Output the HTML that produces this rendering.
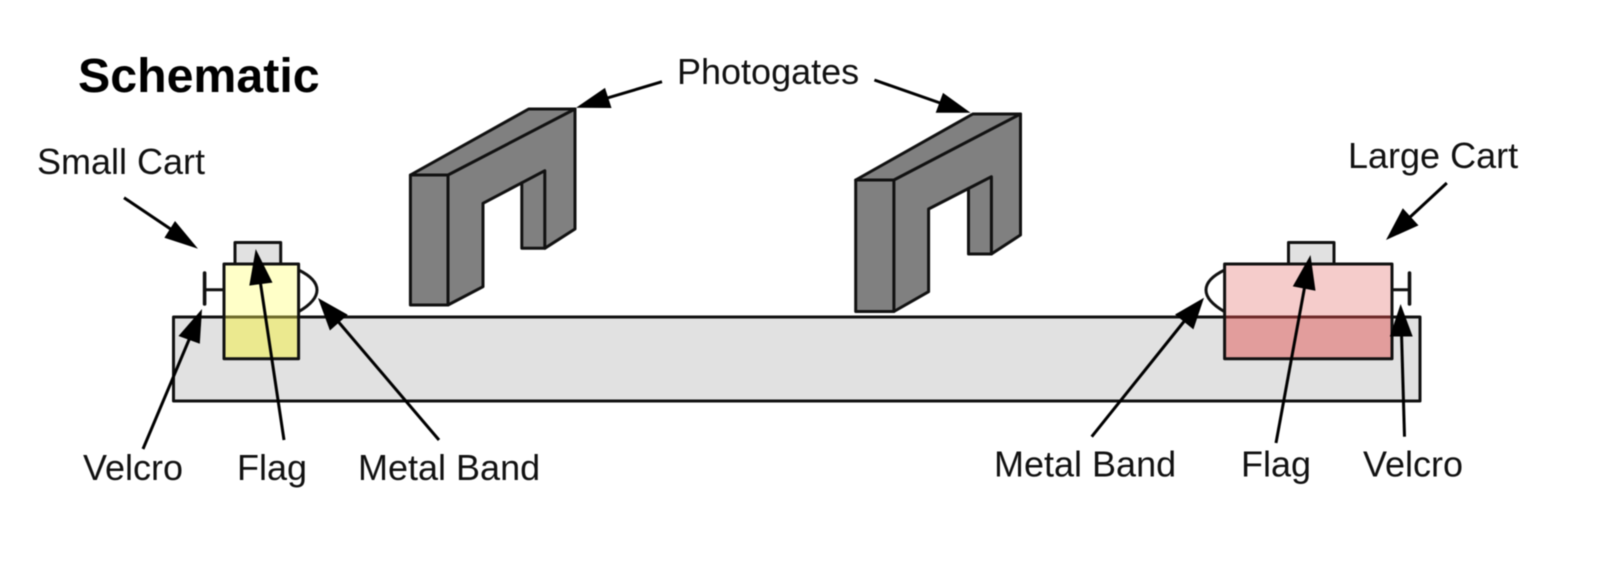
<!DOCTYPE html>
<html>
<head>
<meta charset="utf-8">
<style>
html,body{margin:0;padding:0;background:#fff;width:1604px;height:570px;overflow:hidden}
svg{display:block;filter:blur(0.4px)}
text{font-family:"Liberation Sans",sans-serif;font-size:36px;fill:#111}
</style>
</head>
<body>
<svg width="1604" height="570" viewBox="0 0 1604 570" xmlns="http://www.w3.org/2000/svg">
<rect width="1604" height="570" fill="#fff"/>
<g stroke="#111" stroke-width="3" stroke-linejoin="round" stroke-linecap="round">
  <!-- track -->
  <rect x="173.5" y="317" width="1246.5" height="84" fill="#e1e1e1"/>
  <!-- gate 1 -->
  <path d="M410.4 175L528.7 109L575 109L575 229L544.8 248.3L521.8 248.3L521.8 182.8L483 203.3L483 286.7L448 305L410.4 305Z" fill="#808080"/>
  <path d="M410.4 175L448 175L575 109M448 175L448 305M521.8 182.8L544.8 170.7L544.8 248.3" fill="none"/>
  <!-- gate 2 -->
  <path d="M855.7 180L972.8 114L1020.5 114L1020.5 235L991.4 254L968.5 254L968.5 188.5L928.6 209L928.6 291.7L893.9 311.5L855.7 311.5Z" fill="#808080"/>
  <path d="M855.7 180L893.9 180L1020.5 114M893.9 180L893.9 311.5M968.5 188.5L991.4 176.7L991.4 254" fill="none"/>
  <!-- small cart -->
  <rect x="235" y="242.5" width="45.7" height="22" fill="#e1e1e1"/>
  <path d="M298.6 270Q317 279 317 290Q317 301 298.6 311.7" fill="none"/>
  <path d="M204.6 273V304" fill="none" stroke-width="3.6"/>
  <path d="M204.6 289.7H224" fill="none"/>
  <rect x="224" y="264" width="74.6" height="53" fill="#ffffc8" stroke="none"/>
  <rect x="224" y="317" width="74.6" height="41.7" fill="#ebe98f" stroke="none"/>
  <path d="M224 317H298.6" stroke="#6f6c2c" fill="none"/>
  <rect x="224" y="264" width="74.6" height="94.7" fill="none"/>
  <!-- large cart -->
  <rect x="1288.5" y="242.5" width="45.5" height="22" fill="#e1e1e1"/>
  <path d="M1224.6 270Q1206 279 1206 290Q1206 301 1224.6 311.7" fill="none"/>
  <path d="M1409.5 273V304" fill="none" stroke-width="3.6"/>
  <path d="M1392 289.7H1409.5" fill="none"/>
  <rect x="1224.6" y="264" width="167.4" height="53" fill="#f5cccb" stroke="none"/>
  <rect x="1224.6" y="317" width="167.4" height="41.7" fill="#e29d9c" stroke="none"/>
  <path d="M1224.6 317H1392" stroke="#6e2a2a" fill="none"/>
  <rect x="1224.6" y="264" width="167.4" height="94.7" fill="none"/>
</g>
<!-- arrows -->
<g stroke="#000" stroke-width="3" fill="none" stroke-linecap="butt">
  <path d="M124 197.7L175 232"/>
  <path d="M143 449L191 335"/>
  <path d="M284 440L260 280"/>
  <path d="M439 440L336 319"/>
  <path d="M662 81.7L604 99"/>
  <path d="M874.4 80L943 104"/>
  <path d="M1446.8 183L1408 219"/>
  <path d="M1091.7 436.7L1186 319"/>
  <path d="M1276 443L1305 285"/>
  <path d="M1404.5 436.7L1401.5 333"/>
</g>
<g fill="#000">
  <polygon points="198,248.7 175,221 164.4,237.8"/>
  <polygon points="202,309 178.5,336 199.8,343.7"/>
  <polygon points="255.7,249 249.3,285.6 272.5,282.6"/>
  <polygon points="318,298 347.8,314.8 329.9,330.5"/>
  <polygon points="576,107.7 605,87.9 611.5,108"/>
  <polygon points="970.6,112.7 943,92.9 935.7,112.7"/>
  <polygon points="1386,240 1402.8,208.3 1418.5,225.4"/>
  <polygon points="1204,297.7 1175,314.5 1193.4,329.4"/>
  <polygon points="1310.5,255 1292.8,286.4 1315.5,290.8"/>
  <polygon points="1400.6,304 1389.8,336.5 1412.7,336.5"/>
</g>
<!-- labels -->
<text x="78" y="92" style="font-size:48.3px;font-weight:bold;fill:#000">Schematic</text>
<text x="677" y="84">Photogates</text>
<text x="37" y="174">Small Cart</text>
<text x="1348" y="168">Large Cart</text>
<text x="83" y="480">Velcro</text>
<text x="237" y="480">Flag</text>
<text x="358" y="480">Metal Band</text>
<text x="994" y="476.5">Metal Band</text>
<text x="1241" y="476.5">Flag</text>
<text x="1363" y="476.5">Velcro</text>
</svg>
</body>
</html>
